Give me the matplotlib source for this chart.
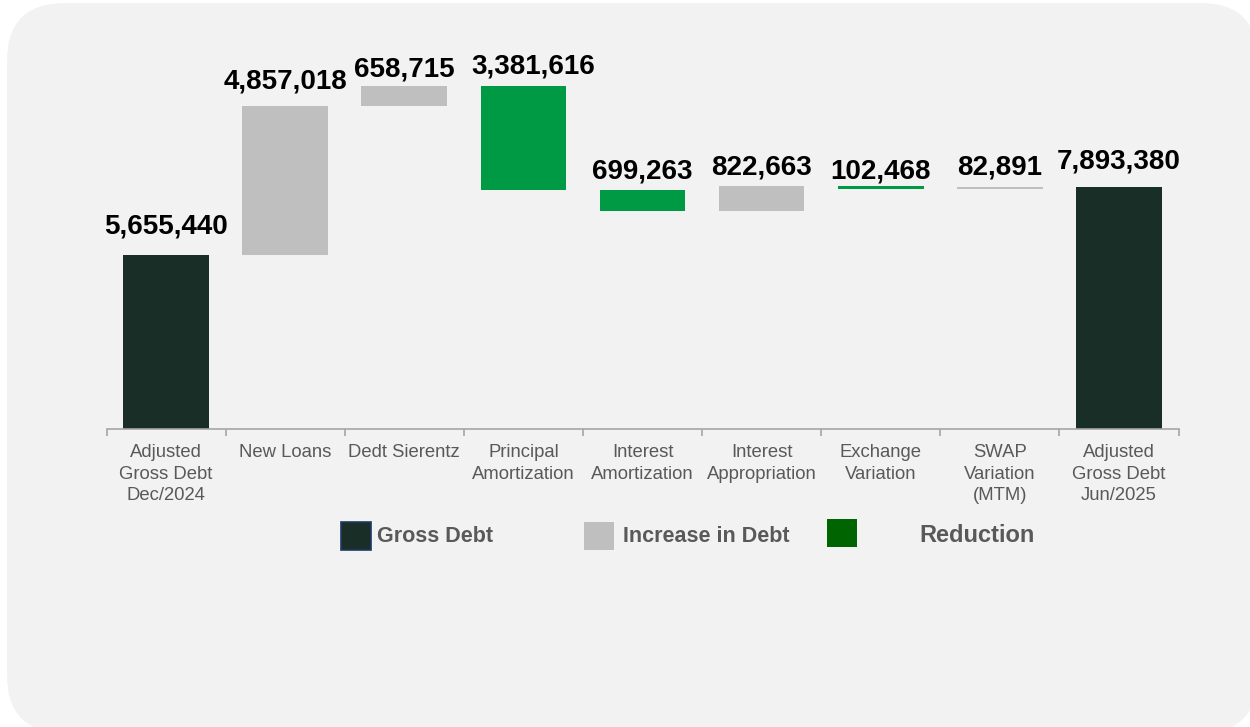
import matplotlib.pyplot as plt
import numpy as np
from matplotlib.patches import FancyBboxPatch, Rectangle
from matplotlib.transforms import IdentityTransform

plt.rcParams['font.family'] = ['Liberation Sans', 'DejaVu Sans']

categories = [
    "Adjusted\nGross Debt\nDec/2024",
    "New Loans",
    "Dedt Sierentz",
    "Principal\nAmortization",
    "Interest\nAmortization",
    "Interest\nAppropriation",
    "Exchange\nVariation",
    "SWAP\nVariation\n(MTM)",
    "Adjusted\nGross Debt\nJun/2025",
]
values = [5655440, 4857018, 658715, 3381616, 699263, 822663, 102468, 82891, 7893380]
kinds = ["total", "up", "up", "down", "down", "up", "down", "up", "total"]

colors = {"total": "#1a2e28", "up": "#bfbfbf", "down": "#009a44"}
text_grey = "#595959"

# waterfall bottoms and tops
bottoms, tops = [], []
level = 0
for v, k in zip(values, kinds):
    if k == "total":
        bottoms.append(0)
        level = v
    elif k == "up":
        bottoms.append(level)
        level += v
    else:
        level -= v
        bottoms.append(level)
    tops.append(bottoms[-1] + v)

fig = plt.figure(figsize=(12.5, 7.27), dpi=100)
fig.patch.set_facecolor("white")

# rounded grey panel behind everything
panel = FancyBboxPatch((7, -6), 1251, 730, boxstyle="round,pad=0,rounding_size=58",
                       transform=IdentityTransform(), facecolor="#f2f2f2",
                       edgecolor="none", zorder=-5)
fig.patches.append(panel)

ax = fig.add_axes([106.5 / 1250, 1 - 429 / 727, 1072 / 1250, 400 / 727])
ax.set_facecolor("none")
ax.set_zorder(1)

x = np.arange(len(values))
ax.bar(x, values, bottom=bottoms, width=0.72,
       color=[colors[k] for k in kinds], zorder=2)

ax.set_xlim(-0.5, len(values) - 0.5)
ax.set_ylim(0, 400 * 32569)

# value labels above each bar
label_dy = [16, 12, 3, 6, 5, 6, 2, 6, 12]
label_dx = [0, 0, 0, 10, 0, 0, 0, 0, 0]
for xi, top, v, dy, dx in zip(x, tops, values, label_dy, label_dx):
    ax.annotate(f"{v:,}", (xi, top), xytext=(dx * 0.72, dy * 0.72),
                textcoords="offset points", ha="center", va="bottom",
                fontsize=20, fontweight="bold", color="black", zorder=3)

for side in ["top", "right", "left"]:
    ax.spines[side].set_visible(False)
ax.spines["bottom"].set_color("#a6a6a6")
ax.spines["bottom"].set_linewidth(1.2)
ax.set_yticks([])

ax.set_xticks(x)
ax.set_xticklabels(categories, fontsize=13.3, color=text_grey, linespacing=1.35)
ax.tick_params(axis="x", which="major", length=0, pad=11)
ax.set_xticks(np.arange(-0.5, len(values)), minor=True)
ax.tick_params(axis="x", which="minor", length=5, color="#a6a6a6", width=1.2)

# legend drawn as pixel-placed squares and labels
legend_items = [
    ("Gross Debt", colors["total"], "#1f3864", 341, 522, 377, 15.5),
    ("Increase in Debt", "#bfbfbf", "none", 584, 522, 623, 15.5),
    ("Reduction", "#006400", "none", 827, 519, 919, 17),
]
for label, fc, ec, sx, sy, tx, fs in legend_items:
    fig.patches.append(Rectangle((sx, 727 - sy - 28), 30, 28, facecolor=fc,
                                 edgecolor=ec, linewidth=1.2,
                                 transform=IdentityTransform(), zorder=2))
    fig.text(tx / 1250, 1 - 536 / 727, label, fontsize=fs, fontweight="bold",
             color=text_grey, va="center", ha="left")

fig.savefig("out.png", dpi=100)
